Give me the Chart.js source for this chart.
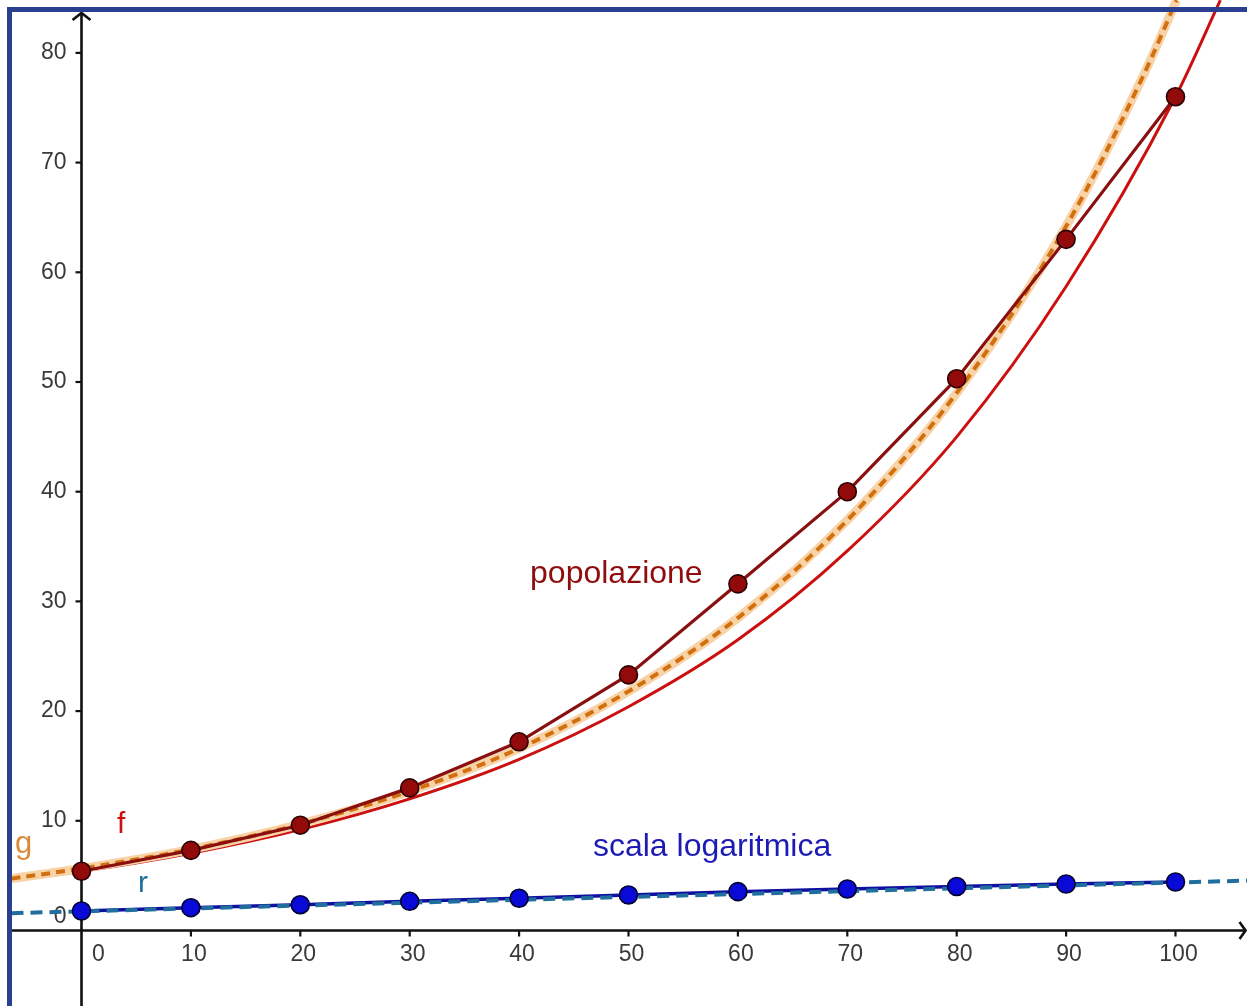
<!DOCTYPE html>
<html><head><meta charset="utf-8">
<script src="https://cdn.jsdelivr.net/npm/chart.js@4/dist/chart.umd.min.js"></script>
<style>html,body{margin:0;padding:0;background:#fff;overflow:hidden}canvas{display:block}</style>
</head><body><canvas id="c" width="1247" height="1006" style="width:1247px;height:1006px"></canvas>
<script>
// ---- data ----
const years = [0, 10, 20, 30, 40, 50, 60, 70, 80, 90, 100];
const popolazione = [5.4, 7.3, 9.6, 13.0, 17.2, 23.3, 31.6, 40.0, 50.3, 63.0, 76.0];
const scalaLogaritmica = [1.78, 2.08, 2.35, 2.66, 2.94, 3.24, 3.54, 3.78, 4.01, 4.24, 4.42];
const fX = [-6.4, 0, 10, 20, 30, 40, 50, 60, 70, 80, 90, 100, 104.1];
const fY = [4.6, 5.4, 7.05, 9.2, 12.0, 15.6, 20.4, 26.5, 34.6, 45.0, 58.7, 76.0, 84.8];
const gX = [-6.4, 0, 10, 20, 30, 40, 50, 60, 70, 80, 90, 97, 100.1];
const gY = [4.73, 5.65, 7.4, 9.7, 12.7, 16.6, 21.8, 28.5, 37.4, 49.0, 64.2, 77.8, 84.8];
const rX = [-6.4, 106.6];
const rY = [1.58, 4.55];
const xTickValues = [0, 10, 20, 30, 40, 50, 60, 70, 80, 90, 100];
const xTickLabels = ["0", "10", "20", "30", "40", "50", "60", "70", "80", "90", "100"];
const yTickValues = [0, 10, 20, 30, 40, 50, 60, 70, 80];
const yTickLabels = ["0", "10", "20", "30", "40", "50", "60", "70", "80"];
const textLabels = [
  {text: "popolazione", x: 41.0, y: 31.68, color: "#8f0d0d", size: 32},
  {text: "scala logaritmica", x: 46.75, y: 6.79, color: "#1c1cb4", size: 32},
  {text: "f", x: 3.24, y: 8.89, color: "#cc1010", size: 30},
  {text: "g", x: -6.08, y: 7.09, color: "#d98a3a", size: 31},
  {text: "r", x: 5.16, y: 3.54, color: "#1f6e9e", size: 30}
];

const pts = (xs, ys) => xs.map((x, i) => ({x: x, y: ys[i]}));
const FONT = '"Liberation Sans", Arial, sans-serif';

const axesPlugin = {
  id: 'geoAxes',
  beforeDatasetsDraw(chart) {
    const ctx = chart.ctx, xs = chart.scales.x, ys = chart.scales.y, ca = chart.chartArea;
    const x0 = xs.getPixelForValue(0), y0 = ys.getPixelForValue(0);
    ctx.save();
    ctx.strokeStyle = '#111'; ctx.lineWidth = 2.6; ctx.lineCap = 'butt';
    // x axis
    ctx.beginPath(); ctx.moveTo(ca.left, y0); ctx.lineTo(1245.5, y0); ctx.stroke();
    ctx.beginPath(); ctx.moveTo(1239.5, y0 - 8.5); ctx.lineTo(1245.5, y0); ctx.lineTo(1239.5, y0 + 8.5); ctx.stroke();
    // y axis
    ctx.beginPath(); ctx.moveTo(x0, ca.bottom); ctx.lineTo(x0, 13); ctx.stroke();
    ctx.beginPath(); ctx.moveTo(x0 - 9, 20); ctx.lineTo(x0, 13); ctx.lineTo(x0 + 9, 20); ctx.stroke();
    // ticks
    ctx.lineWidth = 2.2;
    xTickValues.forEach(v => { if (v === 0) return; const p = xs.getPixelForValue(v); ctx.beginPath(); ctx.moveTo(p, y0); ctx.lineTo(p, y0 + 6); ctx.stroke(); });
    yTickValues.forEach(v => { if (v === 0) return; const p = ys.getPixelForValue(v); ctx.beginPath(); ctx.moveTo(x0 - 6, p); ctx.lineTo(x0, p); ctx.stroke(); });
    // tick labels
    ctx.fillStyle = '#3a3a3a'; ctx.font = '23px ' + FONT; ctx.textBaseline = 'middle';
    ctx.textAlign = 'center';
    xTickValues.forEach((v, i) => { const p = xs.getPixelForValue(v); ctx.fillText(xTickLabels[i], v === 0 ? p + 17 : p + 3, y0 + 24); });
    ctx.textAlign = 'right';
    yTickValues.forEach((v, i) => { const p = ys.getPixelForValue(v); ctx.fillText(yTickLabels[i], x0 - 15, v === 0 ? p - 14 : p); });
    ctx.restore();
  },
  afterDatasetsDraw(chart) {
    const ctx = chart.ctx, xs = chart.scales.x, ys = chart.scales.y;
    ctx.save();
    ctx.textBaseline = 'alphabetic'; ctx.textAlign = 'left';
    textLabels.forEach(t => {
      ctx.font = t.size + 'px ' + FONT; ctx.fillStyle = t.color;
      ctx.fillText(t.text, xs.getPixelForValue(t.x), ys.getPixelForValue(t.y));
    });
    ctx.restore();
  },
  afterDraw(chart) {
    const ctx = chart.ctx;
    ctx.save();
    ctx.fillStyle = '#2a3f8f';
    ctx.fillRect(7, 7, chart.width - 7, 5);
    ctx.fillRect(7, 7, 5, chart.height - 7);
    ctx.restore();
  }
};

new Chart(document.getElementById('c'), {
  type: 'line',
  data: {
    datasets: [
      {label: 'popolazione', data: pts(years, popolazione), borderColor: '#8a0f0f', borderWidth: 3.2,
        pointRadius: 9, pointBackgroundColor: '#920a0a', pointBorderColor: '#2a0000', pointBorderWidth: 1.6, order: 1},
      {label: 'scala logaritmica pts', data: pts(years, scalaLogaritmica), showLine: false,
        pointRadius: 9, pointBackgroundColor: '#0a0ad8', pointBorderColor: '#000030', pointBorderWidth: 1.6, order: 2},
      {label: 'r', data: pts(rX, rY), borderColor: '#1f6e9e', borderWidth: 4, borderDash: [12, 7], pointRadius: 0, order: 3},
      {label: 'scala logaritmica', data: pts(years, scalaLogaritmica), borderColor: '#1010a0', borderWidth: 3.5, pointRadius: 0, order: 4},
      {label: 'g', data: pts(gX, gY), borderColor: '#d2700f', borderWidth: 4, borderDash: [9, 6], pointRadius: 0, cubicInterpolationMode: 'monotone', order: 5},
      {label: 'g halo', data: pts(gX, gY), borderColor: '#f8d3a8', borderWidth: 9, pointRadius: 0, cubicInterpolationMode: 'monotone', order: 6},
      {label: 'f', data: pts(fX, fY), borderColor: '#cc1010', borderWidth: 3, pointRadius: 0, cubicInterpolationMode: 'monotone', order: 7}
    ]
  },
  options: {
    responsive: false, maintainAspectRatio: false, animation: false, devicePixelRatio: 1,
    layout: {autoPadding: false, padding: {left: 12, top: 0, right: 0, bottom: 0}},
    plugins: {legend: {display: false}, tooltip: {enabled: false}},
    scales: {
      x: {type: 'linear', display: false, bounds: 'data', min: -6.353, max: 106.536},
      y: {type: 'linear', display: false, bounds: 'data', min: -6.882, max: 84.82}
    }
  },
  plugins: [axesPlugin]
});
</script>
</body></html>
